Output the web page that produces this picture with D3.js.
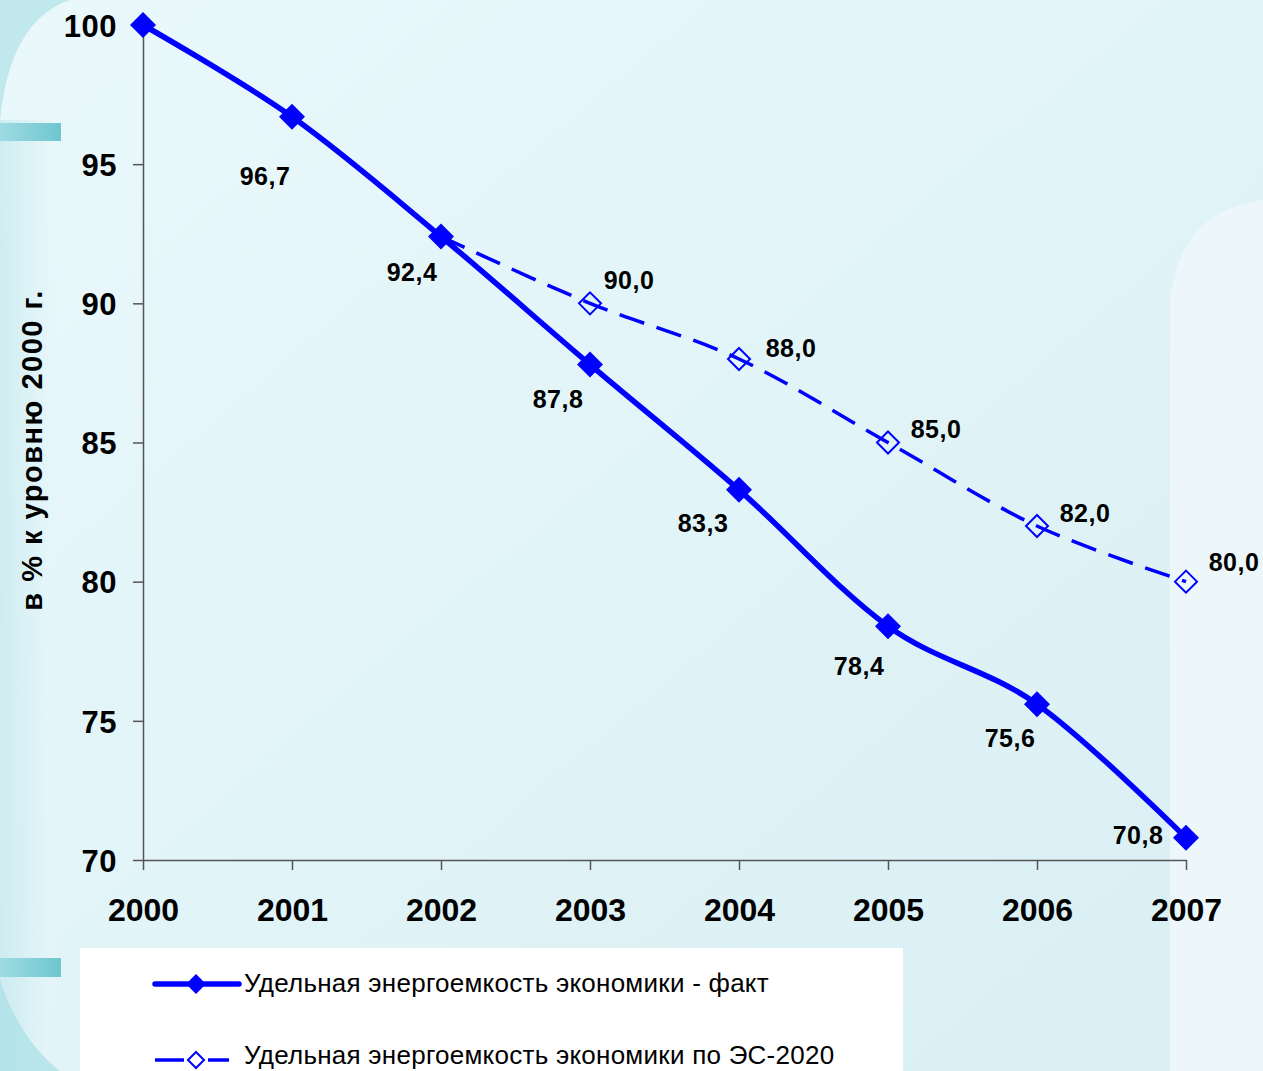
<!DOCTYPE html>
<html><head><meta charset="utf-8">
<script src="https://cdn.jsdelivr.net/npm/d3@7"></script>
<style>
html,body{margin:0;padding:0;overflow:hidden;background:#e2f4f8;}
svg{display:block;}
text{font-family:"Liberation Sans",Arial,sans-serif;}
</style></head><body>
<script>
const years = [2000, 2001, 2002, 2003, 2004, 2005, 2006, 2007];
const factValues = [100, 96.7, 92.4, 87.8, 83.3, 78.4, 75.6, 70.8];
const planYears = [2002, 2003, 2004, 2005, 2006, 2007];
const planValues = [92.4, 90.0, 88.0, 85.0, 82.0, 80.0];
const yTicks = [70, 75, 80, 85, 90, 95, 100];
const seriesNames = ["Удельная энергоемкость экономики - факт", "Удельная энергоемкость экономики по ЭС-2020"];
const yTitle = "в % к уровню 2000 г.";

const W = 1263, H = 1071;
const svg = d3.select("body").append("svg").attr("width", W).attr("height", H);
const defs = svg.append("defs");

// background
const bg = defs.append("linearGradient").attr("id","bg").attr("x1","0").attr("x2","1").attr("y1","0").attr("y2","1");
bg.append("stop").attr("offset","0").attr("stop-color","#eaf8fb");
bg.append("stop").attr("offset","0.5").attr("stop-color","#e1f4f8");
bg.append("stop").attr("offset","1").attr("stop-color","#d9eff3");
svg.append("rect").attr("width",W).attr("height",H).attr("fill","url(#bg)");

const lg = defs.append("linearGradient").attr("id","leftg").attr("x1","0").attr("x2","1");
lg.append("stop").attr("offset","0").attr("stop-color","#bfe6ec");
lg.append("stop").attr("offset","1").attr("stop-color","#e6f6fa");
svg.append("path").attr("d","M0,0 L70,0 Q10,20 0,120 Z").attr("fill","#b5e3ea").attr("opacity",0.8);
svg.append("rect").attr("x",0).attr("y",120).attr("width",50).attr("height",951).attr("fill","url(#leftg)").attr("opacity",0.6);
svg.append("path").attr("d","M0,980 Q20,1040 60,1071 L0,1071 Z").attr("fill","#a8dfe6").attr("opacity",0.7);

const barg = defs.append("linearGradient").attr("id","barg").attr("x1","0").attr("x2","1");
barg.append("stop").attr("offset","0").attr("stop-color","#9fdbe2");
barg.append("stop").attr("offset","1").attr("stop-color","#6fc6d0");
svg.append("rect").attr("x",0).attr("y",123).attr("width",61).attr("height",18).attr("fill","url(#barg)");
svg.append("rect").attr("x",0).attr("y",958).attr("width",61).attr("height",19).attr("fill","url(#barg)");

// right rounded panel
svg.append("path").attr("d","M1263,200 Q1180,210 1170,300 L1170,1071 L1263,1071 Z").attr("fill","#eef7fb").attr("opacity",0.9);

// scales
const x = d3.scaleLinear().domain([2000, 2007]).range([143, 1186]);
const y = d3.scaleLinear().domain([70, 100]).range([860, 25]);

// axes
const axisColor = "#555";
const yAxis = svg.append("g").attr("transform","translate(143,0)")
  .call(d3.axisLeft(y).tickValues(yTicks).tickSize(10).tickSizeOuter(0));
const xAxis = svg.append("g").attr("transform","translate(0,860)")
  .call(d3.axisBottom(x).tickValues(years).tickFormat(d3.format("d")).tickSize(10).tickSizeOuter(0));
[yAxis, xAxis].forEach(g => {
  g.select(".domain").attr("stroke", axisColor).attr("stroke-width",1.5);
  g.selectAll(".tick line").attr("stroke", axisColor).attr("stroke-width",1.5);
  g.selectAll(".tick text").attr("fill","#000").attr("font-weight","bold").attr("font-size",31)
    .attr("font-family",'"Liberation Sans",Arial,sans-serif');
});
yAxis.selectAll(".tick text").attr("dy","0.36em").attr("x",-26).attr("letter-spacing",0.5);
xAxis.selectAll(".tick text").attr("dy",0).attr("y",61).attr("font-size",32);

// y title
svg.append("text").attr("transform","translate(42,450) rotate(-90)")
  .attr("text-anchor","middle").attr("font-weight","bold").attr("font-size",29).attr("letter-spacing",1.5).text(yTitle);

const curve = d3.curveCatmullRom.alpha(0);
const factData = years.map((yr,i)=>({x:yr, v:factValues[i]}));
const planData = planYears.map((yr,i)=>({x:yr, v:planValues[i]}));
const line = d3.line().x(d=>x(d.x)).y(d=>y(d.v)).curve(curve);

// plan (dashed)
svg.append("path").datum(planData).attr("d",line).attr("fill","none")
  .attr("stroke","#0000ff").attr("stroke-width",3.5).attr("stroke-dasharray","26,13");
// fact (solid)
svg.append("path").datum(factData).attr("d",line).attr("fill","none")
  .attr("stroke","#0000ff").attr("stroke-width",5.5).attr("stroke-linejoin","round");

const diamond = s => `M0,${-s} L${s},0 L0,${s} L${-s},0 Z`;

svg.selectAll(".pm").data(planData.slice(1)).enter().append("path")
  .attr("transform",d=>`translate(${x(d.x)},${y(d.v)})`)
  .attr("d",diamond(11)).attr("fill","none").attr("stroke","#0000ff").attr("stroke-width",2);
svg.selectAll(".fm").data(factData).enter().append("path")
  .attr("transform",d=>`translate(${x(d.x)},${y(d.v)})`)
  .attr("d",diamond(13)).attr("fill","#0000ff");

const fmt = v => v.toFixed(1).replace(".", ",");
// fact labels (below-left)
const factLabelDx = [0, -27, -29, -32, -36, -29, -27, -48];
const factLabelDy = [0, 68, 44, 43, 42, 49, 43, 6];
svg.selectAll(".fl").data(factData.slice(1)).enter().append("text")
  .attr("x",(d,i)=>x(d.x)+factLabelDx[i+1]).attr("y",(d,i)=>y(d.v)+factLabelDy[i+1])
  .attr("text-anchor","middle").attr("font-weight","bold").attr("font-size",25).attr("letter-spacing",0.5).text(d=>fmt(d.v));
// plan labels (above-right)
const planLabelDx = [39, 52, 48, 48, 48];
const planLabelDy = [-14, -2, -5, -4, -11];
svg.selectAll(".plab").data(planData.slice(1)).enter().append("text")
  .attr("x",(d,i)=>x(d.x)+planLabelDx[i]).attr("y",(d,i)=>y(d.v)+planLabelDy[i])
  .attr("text-anchor","middle").attr("font-weight","bold").attr("font-size",25).attr("letter-spacing",0.5).text(d=>fmt(d.v));

// legend
const leg = svg.append("g");
leg.append("rect").attr("x",80).attr("y",948).attr("width",823).attr("height",130).attr("fill","#ffffff");
leg.append("line").attr("x1",155).attr("x2",239).attr("y1",984).attr("y2",984)
  .attr("stroke","#0000ff").attr("stroke-width",5.5).attr("stroke-linecap","round");
leg.append("path").attr("transform","translate(196,984)").attr("d",diamond(10)).attr("fill","#0000ff");
leg.append("text").attr("x",244).attr("y",992).attr("font-size",26).attr("letter-spacing",0.25).attr("fill","#000").text(seriesNames[0]);
leg.append("line").attr("x1",155).attr("x2",184).attr("y1",1060).attr("y2",1060).attr("stroke","#0000ff").attr("stroke-width",3.5);
leg.append("line").attr("x1",208).attr("x2",229).attr("y1",1060).attr("y2",1060).attr("stroke","#0000ff").attr("stroke-width",3.5);
leg.append("path").attr("transform","translate(196,1060)").attr("d",diamond(8)).attr("fill","none").attr("stroke","#0000ff").attr("stroke-width",2);
leg.append("text").attr("x",244).attr("y",1064).attr("font-size",26).attr("letter-spacing",0.25).attr("fill","#000").text(seriesNames[1]);
</script>
</body></html>
